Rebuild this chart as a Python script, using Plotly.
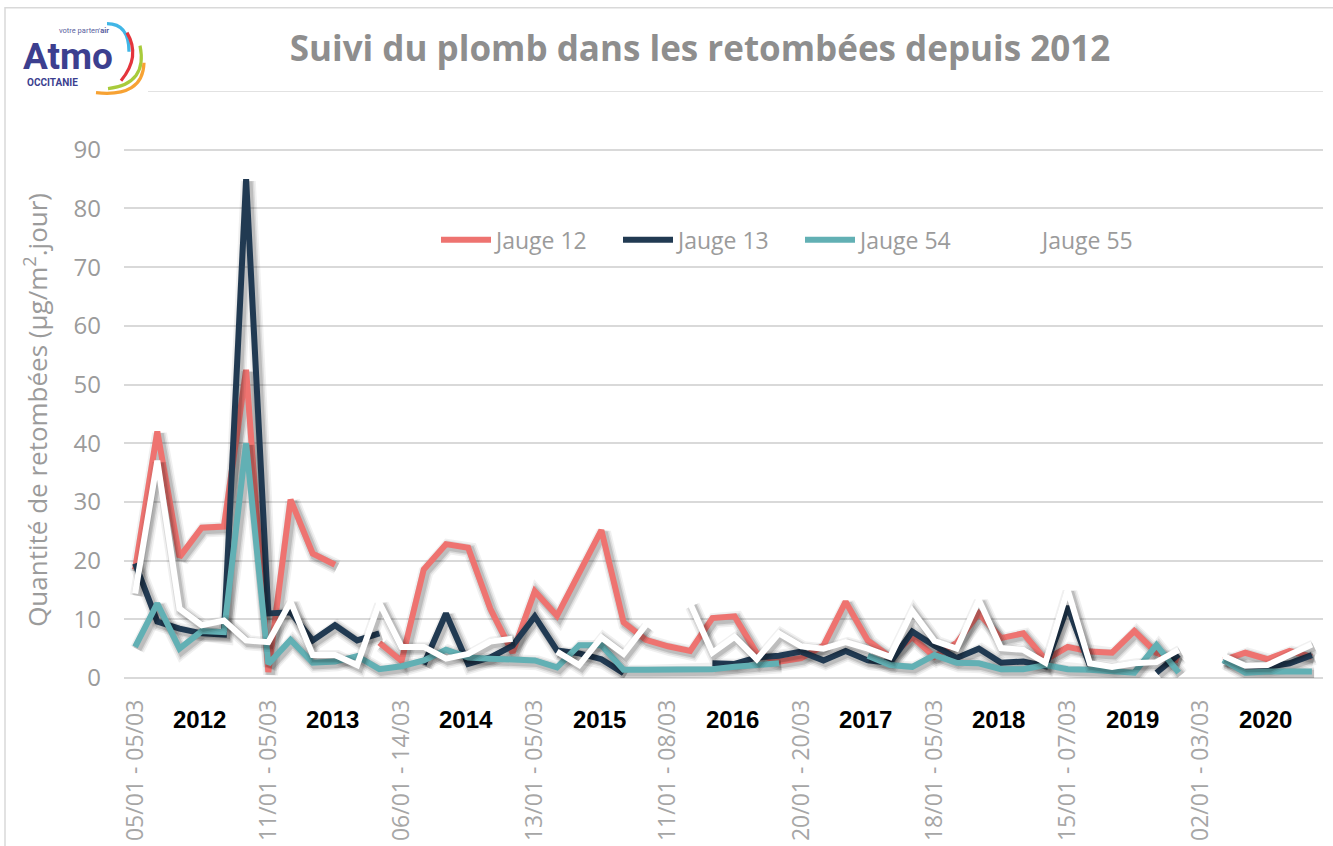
import plotly.graph_objects as go

# ---------------- data ----------------
tick_labels = ["05/01 - 05/03", "11/01 - 05/03", "06/01 - 14/03", "13/01 - 05/03",
               "11/01 - 08/03", "20/01 - 20/03", "18/01 - 05/03", "15/01 - 07/03",
               "02/01 - 03/03"]
years = ["2012", "2013", "2014", "2015", "2016", "2017", "2018", "2019", "2020"]
periods_per_year = 6

jauge12 = [18.5, 42.0, 20.6, 25.6, 25.8, 52.5,
           1.0, 30.4, 21.2, 19.3, None, 6.0,
           2.9, 18.5, 22.8, 22.2, 11.8, 4.3,
           14.8, 10.6, 18.0, 25.2, 9.5, 6.5,
           5.4, 4.6, 10.2, 10.5, 4.2, 2.8,
           3.4, 5.5, 13.0, 6.4, 3.6, 7.0,
           3.6, 6.0, 11.0, 6.8, 7.6, 3.1,
           5.3, 4.5, 4.3, 8.0, 4.3, 3.0,
           None, 3.0, 4.3, 3.2, 4.6, 3.6]
jauge13 = [19.5, 9.6, 8.4, 7.6, 7.4, 85.0,
           11.0, 11.2, 6.4, 9.0, 6.4, 7.6,
           None, 2.3, 11.0, 2.4, 3.5, 5.5,
           10.5, 4.7, 4.2, 3.2, 0.8, None,
           None, None, 2.5, 2.4, 3.5, 3.8,
           4.5, 3.0, 4.6, 3.0, 2.6, 7.9,
           5.5, 3.4, 5.0, 2.6, 2.8, 2.0,
           12.2, 2.1, None, None, 0.9, 4.0,
           None, 3.0, 2.0, 1.9, 2.5, 3.9]
jauge54 = [5.3, 12.7, 5.0, 8.0, 7.8, 40.0,
           2.4, 6.5, 2.6, 2.8, 3.7, 1.5,
           2.0, 3.0, 4.8, 3.5, 3.3, 3.1,
           3.0, 1.8, 5.6, 5.6, 1.4, 1.4,
           1.4, 1.4, 1.5, 1.9, 2.2, 2.5,
           None, None, None, 3.8, 2.2, 1.9,
           3.9, 2.6, 2.5, 1.5, 1.5, 2.2,
           1.5, 1.4, 1.1, 0.9, 5.6, 0.9,
           None, 3.1, 0.9, 1.1, 1.1, 1.1]
jauge55 = [14.4, 37.0, 11.8, 9.0, 9.8, 6.4,
           6.1, 13.0, 3.9, 3.9, 2.2, 12.8,
           5.3, 5.3, 3.3, 4.1, 6.2, 6.7,
           None, 4.5, 2.2, 6.9, 4.1, 9.0,
           None, 12.7, 4.3, 7.0, 3.2, 7.6,
           5.4, 5.0, 6.1, 5.0, 3.6, 11.4,
           6.3, 5.0, 13.3, 5.1, 4.8, 2.6,
           15.0, 2.5, 1.9, 2.5, 2.7, 4.8,
           None, 3.8, 2.1, 2.2, 3.9, 5.7]

series_names = ["Jauge 12", "Jauge 13", "Jauge 54", "Jauge 55"]
series_values = [jauge12, jauge13, jauge54, jauge55]
series_colors = ["#EE7370", "#213A52", "#62B0B4", "#FFFFFF"]

# ---------------- layout geometry ----------------
W, H = 1333, 846
L, R, T, B = 124, 10, 91.3, 168
PW, PH = W - L - R, H - T - B


def pxp(px, py):
    return (px - L) / PW, (H - B - py) / PH


n = len(jauge12)
xs = list(range(n))

fig = go.Figure()

# soft shadows + lines
shadow_layers = [(15, 0.06), (11.5, 0.09), (8.5, 0.13)]
for name, vals, col in zip(series_names, series_values, series_colors):
    sx = [x + 0.1 for x in xs]
    sy = [None if v is None else v - 0.4 for v in vals]
    for w, a in shadow_layers:
        fig.add_trace(go.Scatter(x=sx, y=sy, mode="lines", showlegend=False, hoverinfo="skip",
                                 line=dict(color=f"rgba(0,0,0,{a})", width=w), connectgaps=False))
    fig.add_trace(go.Scatter(x=xs, y=vals, mode="lines", name=name,
                             line=dict(color=col, width=6), connectgaps=False))

font_main = "Open Sans, Noto Sans, sans-serif"
grey_txt = "#9b9b9b"

shapes = []
# outer frame
fx0, fy0 = pxp(5, 8)
fx1, fy1 = pxp(1345, 860)
shapes.append(dict(type="rect", xref="paper", yref="paper", x0=fx0, y0=fy1, x1=fx1, y1=fy0,
                   line=dict(color="#d9d9d9", width=1.5), fillcolor="rgba(0,0,0,0)", layer="below"))
# top gridline at 100 (partly hidden by the logo box)
gx0, _ = pxp(148, 0)
shapes.append(dict(type="line", xref="paper", yref="y", x0=gx0, x1=1, y0=100, y1=100,
                   line=dict(color="#d9d9d9", width=1.5), layer="below"))

# logo arcs (quadratic curves)
arcs = [((107, 24), (129, 24), (129, 52), "#41B6E6"),
        ((127, 33), (141, 57), (121, 81), "#E4353C"),
        ((140, 46), (148, 84), (108, 89), "#A8CB3B"),
        ((144, 63), (143, 98), (96, 93), "#F7A233")]
for p0, pc, p1, c in arcs:
    a = pxp(*p0); b = pxp(*pc); d = pxp(*p1)
    shapes.append(dict(type="path", xref="paper", yref="paper",
                       path=f"M {a[0]},{a[1]} Q {b[0]},{b[1]} {d[0]},{d[1]}",
                       line=dict(color=c, width=3.2)))

annotations = []
# logo text
ax, ay = pxp(68, 57)
annotations.append(dict(xref="paper", yref="paper", x=ax, y=ay, text="<b>Atmo</b>", showarrow=False,
                        font=dict(family="Roboto, sans-serif", size=37, color="#3C3F8F"),
                        xanchor="center", yanchor="middle"))
ax, ay = pxp(52, 83)
annotations.append(dict(xref="paper", yref="paper", x=ax, y=ay, text="<b>OCCITANIE</b>", showarrow=False,
                        font=dict(family="Roboto, sans-serif", size=10, color="#3C3F8F"),
                        xanchor="center", yanchor="middle"))
ax, ay = pxp(84, 31)
annotations.append(dict(xref="paper", yref="paper", x=ax, y=ay,
                        text="votre parten'<b>air</b>", showarrow=False,
                        font=dict(family="Roboto, sans-serif", size=7.5, color="#5A5E9E"),
                        xanchor="center", yanchor="middle"))

# y-axis title
ax, ay = pxp(36, 410)
annotations.append(dict(xref="paper", yref="paper", x=ax, y=ay,
                        text="Quantité de retombées (µg/m<sup>2</sup>.jour)", showarrow=False,
                        textangle=-90, font=dict(family=font_main, size=26, color=grey_txt),
                        xanchor="center", yanchor="middle"))

# year labels
_, yy = pxp(0, 719)
for k, yr in enumerate(years):
    annotations.append(dict(xref="x", yref="paper", x=k * periods_per_year + 2.9, y=yy,
                            text=f"<b>{yr}</b>", showarrow=False,
                            font=dict(family="Liberation Sans, Arial, sans-serif", size=24, color="#000000"),
                            xanchor="center", yanchor="middle"))

lx, ly = pxp(436, 240)

fig.update_layout(
    width=W, height=H,
    margin=dict(l=L, r=R, t=T, b=B, autoexpand=False),
    paper_bgcolor="white", plot_bgcolor="white",
    title=dict(text="Suivi du plomb dans les retombées depuis 2012", x=700 / W, xref="container",
               xanchor="center", y=1 - 49 / H, yref="container", yanchor="middle",
               font=dict(family=font_main, size=35, color="#8E8E8E", weight=700)),
    xaxis=dict(range=[-0.5, n - 0.5], tickmode="array",
               tickvals=[k * periods_per_year for k in range(len(tick_labels))],
               ticktext=tick_labels, tickangle=-90, showgrid=False, zeroline=False,
               showline=False, ticks="", ticklabelstandoff=16,
               tickfont=dict(family=font_main, size=23, color="#a6a6a6")),
    yaxis=dict(range=[0, 100], tickmode="array", tickvals=list(range(0, 100, 10)),
               showgrid=True, gridcolor="#d9d9d9", gridwidth=1.5, zeroline=True,
               zerolinecolor="#d9d9d9", zerolinewidth=1.5, showline=False, ticks="",
               ticklabelstandoff=22,
               tickfont=dict(family=font_main, size=24, color=grey_txt)),
    legend=dict(orientation="h", x=lx, y=ly, xanchor="left", yanchor="middle",
                entrywidth=117, entrywidthmode="pixels", itemwidth=50,
                font=dict(family=font_main, size=23, color=grey_txt),
                bgcolor="rgba(0,0,0,0)", traceorder="normal"),
    shapes=shapes,
    annotations=annotations,
    showlegend=True,
)

fig.write_html("out.html", config={"displayModeBar": False},
               post_script="document.body.style.margin='0';document.body.style.overflow='hidden';")
